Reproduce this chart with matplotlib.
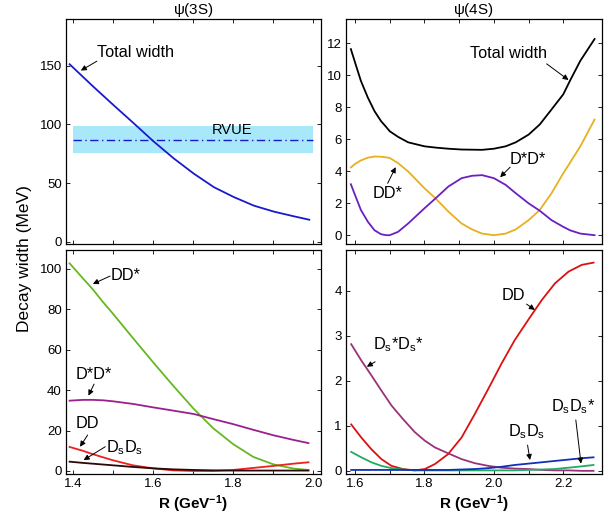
import numpy as np
import matplotlib
matplotlib.use("Agg")
import matplotlib.pyplot as plt

plt.rcParams['font.family'] = ['Liberation Sans', 'DejaVu Sans']
plt.rcParams['mathtext.fontset'] = 'custom'
plt.rcParams['mathtext.rm'] = 'Liberation Sans'
plt.rcParams['mathtext.it'] = 'Liberation Sans'
plt.rcParams['mathtext.bf'] = 'Liberation Sans:bold'

# psi(3S), top panel
r3_top = [1.392, 1.452, 1.5, 1.552, 1.6, 1.652, 1.702, 1.752, 1.802, 1.852,
          1.902, 1.952, 1.99]
total_3s = [151.4, 132, 117, 101, 86, 71, 58, 46.5, 38, 30.7, 25.6, 21.6, 18.7]
rvue_center = 87
rvue_low = 75.5
rvue_high = 98.5
rvue_range = [1.4, 2.0]

# psi(4S), top panel
r4_top = [1.588, 1.6, 1.617, 1.637, 1.656, 1.675, 1.69, 1.7, 1.724, 1.753, 1.8,
          1.832, 1.869, 1.907, 1.937, 1.966, 2.0, 2.034, 2.063, 2.1, 2.132, 2.166,
          2.2, 2.22, 2.249, 2.29]
total_4s = [11.62, 10.79, 9.63, 8.59, 7.75, 7.12, 6.75, 6.49, 6.14, 5.8, 5.55,
            5.47, 5.4, 5.35, 5.34, 5.33, 5.4, 5.55, 5.8, 6.28, 6.91, 7.85,
            8.8, 9.68, 10.89, 12.25]
dds_4s = [4.23, 4.45, 4.67, 4.84, 4.91, 4.9, 4.86, 4.82, 4.5, 3.98, 2.93,
          2.3, 1.47, 0.73, 0.36, 0.1, 0.0, 0.1, 0.36, 0.94, 1.57, 2.62,
          3.87, 4.55, 5.55, 7.22]
dsds_4s_top = [3.18, 2.51, 1.57, 0.84, 0.31, 0.06, 0.0, 0.0, 0.21, 0.73, 1.68,
               2.3, 3.04, 3.56, 3.71, 3.75, 3.56, 3.14, 2.62, 1.99, 1.53, 0.94,
               0.52, 0.3, 0.1, 0.0]

# psi(3S), bottom panel
r3_bot = [1.392, 1.425, 1.45, 1.475, 1.5, 1.55, 1.6, 1.65, 1.702, 1.75, 1.8,
          1.85, 1.9, 1.95, 1.988]
dd_star_3s = [102.8, 95.4, 89.9, 83.7, 77.9, 65.8, 53.9, 42.3, 30.7, 21.2, 13.3,
              7.0, 3.3, 1.2, 0.5]
dstar_dstar_3s = [34.8, 35.2, 35.2, 35.0, 34.5, 33.2, 31.5, 29.9, 28.2, 25.7,
                  23.2, 20.4, 17.7, 15.4, 13.8]
dd_3s = [11.9, 10, 8.3, 6.8, 5.3, 2.8, 1.3, 0.3, 0.0, 0.0, 0.5, 1.5, 2.5, 3.6, 4.3]
dsds_3s = [4.6, 4.0, 3.6, 3.2, 2.8, 2.0, 1.3, 0.8, 0.5, 0.3, 0.2, 0.2, 0.2, 0.2, 0.2]

# psi(4S), bottom panel
r4_bot = [1.589, 1.618, 1.647, 1.676, 1.705, 1.738, 1.772, 1.801, 1.83, 1.868,
          1.907, 1.945, 1.984, 2.022, 2.06, 2.099, 2.138, 2.176, 2.215, 2.253, 2.287]
dd_4s = [1.03, 0.74, 0.48, 0.26, 0.11, 0.04, 0.01, 0.04, 0.15, 0.37, 0.74, 1.26,
         1.82, 2.38, 2.9, 3.35, 3.79, 4.16, 4.42, 4.57, 4.62]
dsst_dsst_4s = [2.81, 2.45, 2.12, 1.78, 1.45, 1.15, 0.86, 0.67, 0.52, 0.39, 0.26,
                0.17, 0.11, 0.07, 0.05, 0.04, 0.02, 0.01, 0.01, 0.0, 0.0]
dsdsst_4s = [0.42, 0.3, 0.19, 0.11, 0.06, 0.03, 0.01, 0.01, 0.01, 0.01, 0.01,
             0.01, 0.01, 0.01, 0.01, 0.02, 0.03, 0.04, 0.07, 0.1, 0.13]
dsds_4s = [0.02, 0.02, 0.02, 0.02, 0.02, 0.02, 0.02, 0.02, 0.02, 0.02, 0.03,
           0.04, 0.06, 0.09, 0.13, 0.16, 0.19, 0.22, 0.25, 0.28, 0.3]

fig = plt.figure(figsize=(6.16, 5.25), dpi=100)
W, H = 616, 525


def add_ax(x0, y0, x1, y1):
    return fig.add_axes([x0 / W, 1 - y1 / H, (x1 - x0) / W, (y1 - y0) / H])


ax1 = add_ax(66, 19, 320.5, 244)
ax2 = add_ax(346, 19, 601.5, 244)
ax3 = add_ax(66, 250, 320.5, 474)
ax4 = add_ax(346, 250, 601.5, 474)

for ax in [ax1, ax2, ax3, ax4]:
    ax.tick_params(direction='in', length=3, width=0.6, top=True, right=True,
                   labelsize=9.5, pad=3)
    for s in ax.spines.values():
        s.set_linewidth(0.9)

left_ticks = [1.4, 1.5, 1.6, 1.7, 1.8, 1.9, 2.0]
right_ticks = [1.6, 1.7, 1.8, 1.9, 2.0, 2.1, 2.2]
for ax in [ax1, ax3]:
    ax.set_xlim(1.383, 2.018)
    ax.set_xticks(left_ticks)
for ax in [ax2, ax4]:
    ax.set_xlim(1.574, 2.31)
    ax.set_xticks(right_ticks)
ax1.set_xticklabels([])
ax2.set_xticklabels([])
ax3.set_xticklabels(['1.4', '', '1.6', '', '1.8', '', '2.0'])
ax4.set_xticklabels(['1.6', '', '1.8', '', '2.0', '', '2.2'])

lw = 1.3
arrow = dict(arrowstyle='-|>', color='black', lw=0.7, mutation_scale=8,
             shrinkA=0, shrinkB=0)
fs = 11.7


def label(ax, txt, tpos, tail, head, ha='center'):
    ax.text(tpos[0], tpos[1], txt, fontsize=fs, ha=ha, va='center')
    ax.annotate('', xy=head, xytext=tail, arrowprops=arrow)


# top-left
ax1.fill_between(rvue_range, rvue_low, rvue_high, color='#a8e8fa', lw=0)
ax1.plot(rvue_range, [rvue_center, rvue_center], color='#1a1acc', lw=1.0,
         dashes=[6, 2.5, 1, 2.5])
ax1.plot(r3_top, total_3s, color='#1a1acc', lw=lw)
ax1.set_ylim(-2, 190)
ax1.set_yticks([0, 50, 100, 150])
ax1.text(1.797, 95.4, 'RVUE', fontsize=10.5, ha='center', va='center')
label(ax1, 'Total width', (1.556, 161.5), (1.46, 154), (1.42, 146))
ax1.set_title(r'$\psi$(3S)', fontsize=11, pad=3)

# top-right
ax2.plot(r4_top, total_4s, color='black', lw=lw)
ax2.plot(r4_top, dds_4s, color='#e8b020', lw=lw)
ax2.plot(r4_top, dsds_4s_top, color='#6a20c0', lw=lw)
ax2.set_ylim(-0.55, 13.5)
ax2.set_yticks([0, 2, 4, 6, 8, 10, 12])
label(ax2, 'Total width', (2.042, 11.37), (2.152, 10.7), (2.215, 9.69))
label(ax2, 'DD*', (1.694, 2.61), (1.694, 3.24), (1.717, 4.25))
label(ax2, 'D*D*', (2.098, 4.71), (2.047, 4.25), (2.018, 3.62))
ax2.set_title(r'$\psi$(4S)', fontsize=11, pad=3)

# bottom-left
ax3.plot(r3_bot, dd_star_3s, color='#66b822', lw=lw)
ax3.plot(r3_bot, dstar_dstar_3s, color='#9b1f8e', lw=lw)
ax3.plot(r3_bot, dd_3s, color='#ee2020', lw=lw)
ax3.plot(r3_bot, dsds_3s, color='#2a0808', lw=lw)
ax3.set_ylim(-1.5, 109.4)
ax3.set_yticks([0, 20, 40, 60, 80, 100])
label(ax3, 'DD*', (1.531, 97), (1.493, 96.5), (1.45, 92.6))
label(ax3, 'D*D*', (1.452, 48), (1.453, 43), (1.439, 37.3))
label(ax3, 'DD', (1.437, 23.3), (1.437, 17.8), (1.418, 12))
label(ax3, r'D$_\mathregular{s}$D$_\mathregular{s}$', (1.483, 11.4),
      (1.481, 12), (1.427, 5.4), ha='left')
ax3.set_xlabel(r'R (GeV$^{\mathbf{-1}}$)', fontsize=11, fontweight='bold', labelpad=2)

# bottom-right
ax4.plot(r4_bot, dd_4s, color='#dd1010', lw=lw)
ax4.plot(r4_bot, dsst_dsst_4s, color='#993377', lw=lw)
ax4.plot(r4_bot, dsdsst_4s, color='#20aa66', lw=lw)
ax4.plot(r4_bot, dsds_4s, color='#1030bb', lw=lw)
ax4.set_ylim(-0.07, 4.9)
ax4.set_yticks([0, 1, 2, 3, 4])
label(ax4, 'DD', (2.056, 3.9), (2.094, 3.7), (2.118, 3.57))
label(ax4, r'D$_\mathregular{s}$*D$_\mathregular{s}$*', (1.725, 2.79),
      (1.658, 2.42), (1.634, 2.31))
label(ax4, r'D$_\mathregular{s}$D$_\mathregular{s}$', (2.094, 0.87),
      (2.097, 0.57), (2.104, 0.24))
label(ax4, r'D$_\mathregular{s}$D$_\mathregular{s}$*', (2.227, 1.42),
      (2.236, 1.13), (2.251, 0.16))
ax4.set_xlabel(r'R (GeV$^{\mathbf{-1}}$)', fontsize=11, fontweight='bold', labelpad=2)

fig.text(25 / W, 1 - 259 / H, 'Decay width (MeV)', rotation=90, fontsize=12.5,
         ha='center', va='center')

fig.savefig('out.png', dpi=100)
